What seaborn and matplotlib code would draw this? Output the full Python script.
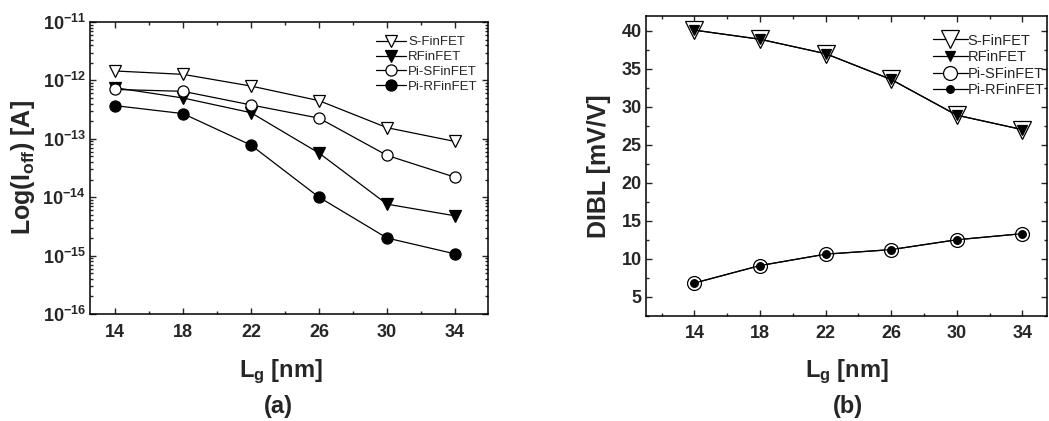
import matplotlib

matplotlib.use("Agg")
import matplotlib.pyplot as plt
import numpy as np
import pandas as pd
import seaborn as sns
from matplotlib.ticker import FixedLocator, FixedFormatter, LogLocator, MultipleLocator, NullFormatter

# --- Data ---
LG = [14, 18, 22, 26, 30, 34]

IOFF_S = [1.45e-12, 1.27e-12, 8.0e-13, 4.5e-13, 1.55e-13, 9.0e-14]
IOFF_R = [7.5e-13, 5.0e-13, 2.8e-13, 5.7e-14, 7.6e-15, 4.8e-15]
IOFF_PI_S = [7.0e-13, 6.5e-13, 3.8e-13, 2.26e-13, 5.2e-14, 2.2e-14]
IOFF_PI_R = [3.7e-13, 2.7e-13, 7.8e-14, 1.0e-14, 2.0e-15, 1.07e-15]

DIBL_S = [40.1, 38.9, 37.0, 33.6, 28.9, 27.0]
DIBL_R = [40.1, 38.9, 37.0, 33.6, 28.9, 27.0]
DIBL_PI_S = [6.8, 9.1, 10.6, 11.2, 12.5, 13.3]
DIBL_PI_R = [6.8, 9.1, 10.6, 11.2, 12.5, 13.3]

NAMES = ["S-FinFET", "RFinFET", "Pi-SFinFET", "Pi-RFinFET"]
DECADES = [-16, -15, -14, -13, -12, -11]

sns.set_theme(style="ticks")
plt.rcParams["font.family"] = ["Liberation Sans", "DejaVu Sans"]
plt.rcParams["mathtext.fontset"] = "custom"
plt.rcParams["mathtext.rm"] = "Liberation Sans"
plt.rcParams["mathtext.bf"] = "Liberation Sans:bold"
plt.rcParams["mathtext.it"] = "Liberation Sans:italic"

W, H = 1049, 421
fig = plt.figure(figsize=(W / 100, H / 100), dpi=100)
ax_a = fig.add_axes([90 / W, 1 - 314 / H, 398 / W, 292 / H])
ax_b = fig.add_axes([646 / W, 1 - 315.7 / H, 401 / W, 300 / H])

# style per series: marker, size, facecolor
styles_a = {
    "S-FinFET": ("v", 9, "white"),
    "RFinFET": ("v", 9, "black"),
    "Pi-SFinFET": ("o", 8, "white"),
    "Pi-RFinFET": ("o", 8, "black"),
}
styles_b = {
    "S-FinFET": ("v", 12.5, "white"),
    "RFinFET": ("v", 6.5, "black"),
    "Pi-SFinFET": ("o", 10, "white"),
    "Pi-RFinFET": ("o", 5.5, "black"),
}

for name, vals in zip(NAMES, [IOFF_S, IOFF_R, IOFF_PI_S, IOFF_PI_R]):
    m, ms, fc = styles_a[name]
    sns.lineplot(x=LG, y=vals, ax=ax_a, color="black", linewidth=0.9, marker=m,
                 markersize=ms, markerfacecolor=fc, markeredgecolor="black",
                 markeredgewidth=0.9, label=name)

for name, vals in zip(NAMES, [DIBL_S, DIBL_R, DIBL_PI_S, DIBL_PI_R]):
    m, ms, fc = styles_b[name]
    sns.lineplot(x=LG, y=vals, ax=ax_b, color="black", linewidth=0.9, marker=m,
                 markersize=ms, markerfacecolor=fc, markeredgecolor="black",
                 markeredgewidth=0.9, label=name)

# --- panel (a) axes ---
ax_a.set_yscale("log")
ax_a.set_ylim(1e-16, 1e-11)
ax_a.set_xlim(12.53, 35.94)
ax_a.yaxis.set_major_locator(FixedLocator([10.0 ** d for d in DECADES]))
ax_a.yaxis.set_major_formatter(FixedFormatter([r"$\mathbf{10^{%d}}$" % d for d in DECADES]))
ax_a.yaxis.set_minor_locator(LogLocator(base=10, subs=np.arange(2, 10), numticks=20))
ax_a.yaxis.set_minor_formatter(NullFormatter())

# --- panel (b) axes ---
ax_b.set_xlim(11.05, 35.5)
ax_b.set_ylim(2.5, 42)
ax_b.yaxis.set_major_locator(MultipleLocator(5))
ax_b.yaxis.set_minor_locator(MultipleLocator(2.5))

for ax in (ax_a, ax_b):
    ax.xaxis.set_major_locator(FixedLocator(LG))
    ax.xaxis.set_minor_locator(MultipleLocator(2))
    ax.tick_params(which="both", direction="in", top=True, right=True, width=1.0)
    ax.tick_params(which="major", length=4)
    ax.tick_params(which="minor", length=2.2)
    ax.tick_params(axis="x", which="major", labelsize=13, pad=7)
    ax.tick_params(axis="y", which="major", labelsize=13, pad=3)
    for lbl in ax.get_xticklabels() + ax.get_yticklabels():
        lbl.set_fontweight("bold")
    for sp in ax.spines.values():
        sp.set_linewidth(1.1)
        sp.set_color("black")
    ax.set_xlabel(r"L$_\mathbf{g}$ [nm]", fontsize=17, fontweight="bold")

ax_a.set_ylabel(r"Log(I$_\mathbf{off}$) [A]", fontsize=18, fontweight="bold")
ax_b.set_ylabel("DIBL [mV/V]", fontsize=18, fontweight="bold")
ax_a.yaxis.set_label_coords(-0.132, 0.5)
ax_b.yaxis.set_label_coords(-0.088, 0.5)
ax_a.xaxis.set_label_coords(0.48, -0.15)
ax_b.xaxis.set_label_coords(0.5, -0.14)

leg_a = ax_a.legend(loc="upper left", bbox_to_anchor=(0.705, 0.97), frameon=False,
                    fontsize=9.5, handlelength=2.3, handletextpad=0.15,
                    labelspacing=0.2, borderaxespad=0)
leg_b = ax_b.legend(loc="upper left", bbox_to_anchor=(0.70, 0.96), frameon=False,
                    fontsize=10.5, handlelength=2.4, handletextpad=0.0,
                    labelspacing=0.18, borderaxespad=0)

fig.text(278 / W, 1 - 406 / H, "(a)", fontsize=17, fontweight="bold", ha="center", va="center")
fig.text(848 / W, 1 - 406 / H, "(b)", fontsize=17, fontweight="bold", ha="center", va="center")

fig.savefig("out.png", dpi=100, facecolor="white")
